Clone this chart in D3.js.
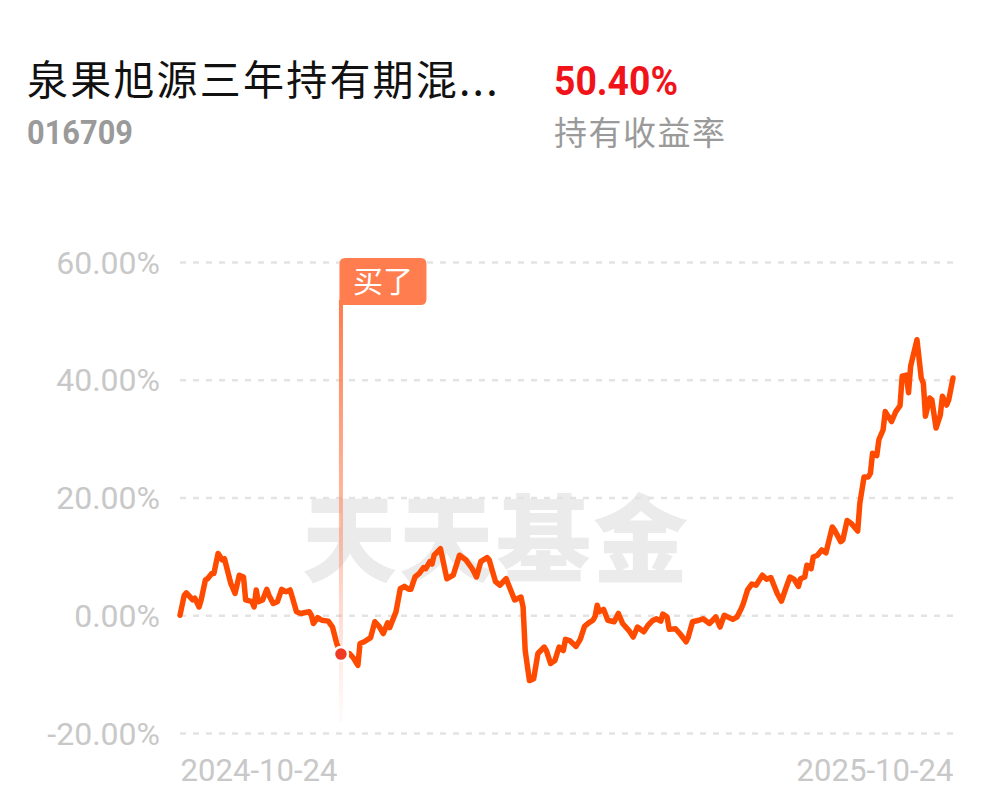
<!DOCTYPE html>
<html><head><meta charset="utf-8">
<script src="https://cdn.jsdelivr.net/npm/d3@7/dist/d3.min.js"></script>
<style>
html,body{margin:0;padding:0;background:#fff;}
svg{display:block;}
</style></head>
<body>
<svg id="c" width="997" height="802"></svg>
<script>
// ---- data ----
const fundName = "泉果旭源三年持有期混...";
const fundCode = "016709";
const holdReturn = "50.40%";
const holdReturnLabel = "持有收益率";
const startDate = "2024-10-24";
const endDate = "2025-10-24";
const yTicks = [-20, 0, 20, 40, 60];
const xTickLabels = ["2024-10-24", "2025-10-24"];
const buyLabel = "买了";
const buyOffset = 76; // days after start
const watermark = "天天基金";

const dayOffsets = [
  0,2,3,6,7,9,10,12,13,15,16,18,20,21,24,26,28,30,31,34,
  35,36,37,39,41,42,44,46,48,50,52,53,55,57,61,62,63,65,67,70,
  72,74,76,80,82,84,85,87,90,92,94,96,98,99,102,104,106,108,109,111,
  113,115,116,118,119,120,123,126,129,132,135,138,140,142,145,146,149,151,154,158,
  161,162,163,165,167,169,172,173,175,177,179,181,182,184,187,189,191,193,195,196,
  197,198,200,202,205,207,209,212,214,216,219,221,223,225,227,228,230,231,234,236,
  239,240,242,245,247,250,253,255,257,261,263,265,266,268,270,272,275,277,279,282,
  284,286,288,290,292,293,295,296,298,299,301,303,305,308,309,312,313,315,317,320,
  321,323,325,326,327,329,330,332,333,334,336,338,340,341,343,344,345,348,350,351,
  352,354,355,357,359,360,362,363,365
];
const returns = [
  0,3.4,3.8,2.6,2.9,1.4,2.6,6.0,6.2,7.1,7.1,10.5,9.4,9.6,5.4,3.7,6.8,6.5,2.6,2.3,
  1.4,4.3,2.3,2.6,4.4,3.4,2.0,2.3,4.4,4.0,4.3,3.1,0.6,0.3,0.6,0.0,-1.4,-0.4,-0.85,-1.0,
  -2.0,-4.8,-6.6,-6.5,-7.3,-8.5,-4.8,-4.5,-3.8,-1.1,-1.9,-3.1,-1.3,-2.1,0.6,4.5,4.9,4.4,4.4,6.5,
  7.1,8.1,7.9,9.1,8.7,10.2,11.3,6.2,6.8,10.2,9.4,7.9,6.5,9.1,9.8,9.4,5.7,5.1,6.2,2.6,
  3.1,1.4,-6.0,-11.1,-10.8,-6.5,-5.4,-6.0,-8.2,-7.7,-5.4,-6.0,-4.1,-4.3,-5.3,-4.1,-1.9,-1.3,-0.85,-0.2,
  1.7,0.6,1.0,-0.85,-1.1,0.3,-1.4,-2.6,-3.7,-2.0,-2.8,-1.7,-0.95,-0.6,-1.0,0.2,-0.3,-2.4,-2.3,-3.1,
  -4.5,-3.7,-1.1,-0.85,-0.6,-1.4,-0.3,-2.0,0.0,-0.7,-0.3,1.1,2.0,4.3,5.3,5.1,6.8,6.1,6.4,3.7,
  2.4,4.5,6.5,6.1,4.9,6.2,6.5,8.5,7.9,9.9,10.2,11.1,10.6,15.0,14.5,12.5,12.8,16.1,15.6,14.3,
  19.0,23.5,23.5,24.1,27.5,27.1,29.8,31.5,34.6,34.0,32.9,34.6,35.6,40.6,40.8,37.8,42.3,46.8,40.3,39.4,
  33.8,36.9,36.6,31.8,34.0,37.2,35.7,36.6,40.3
];

// ---- build ----
const parse = d3.timeParse("%Y-%m-%d");
const t0 = parse(startDate), t1 = parse(endDate);
const data = dayOffsets.map((o, i) => ({date: d3.timeDay.offset(t0, o), v: returns[i]}));
const buyDate = d3.timeDay.offset(t0, buyOffset);
const buyPoint = data.find(d => +d.date === +buyDate);

const svg = d3.select("#c");
const x = d3.scaleTime().domain([t0, t1]).range([180, 953]);
const y = d3.scaleLinear().domain([-20, 60]).range([733, 262]);

// header
svg.append("text").attr("x", 27).attr("y", 95)
  .attr("font-family", "'Noto Sans CJK SC', sans-serif").attr("font-size", 41)
  .attr("letter-spacing", 2.2).attr("fill", "#111").text(fundName);
svg.append("text").attr("x", 27).attr("y", 144)
  .attr("font-family", "Roboto, sans-serif").attr("font-weight", 700).attr("font-size", 33)
  .attr("fill", "#9a9a9a").attr("textLength", 106).attr("lengthAdjust", "spacingAndGlyphs").text(fundCode);
svg.append("text").attr("x", 554).attr("y", 95)
  .attr("font-family", "Roboto, sans-serif").attr("font-weight", 700).attr("font-size", 41)
  .attr("fill", "#f0141a").attr("textLength", 124).attr("lengthAdjust", "spacingAndGlyphs").text(holdReturn);
svg.append("text").attr("x", 554).attr("y", 145)
  .attr("font-family", "'Noto Sans CJK SC', sans-serif").attr("font-size", 33)
  .attr("letter-spacing", 1.5).attr("fill", "#9a9a9a").text(holdReturnLabel);

// watermark
svg.append("text").attr("x", 496).attr("y", 575).attr("text-anchor", "middle")
  .attr("font-family", "'Noto Sans CJK SC', sans-serif").attr("font-weight", 900).attr("font-size", 95)
  .attr("letter-spacing", 2).attr("fill", "#ebebeb").text(watermark);

// y axis with gridlines
const yAxis = d3.axisLeft(y).tickValues(yTicks).tickSize(-(953 - 180)).tickPadding(20)
  .tickFormat(d => d.toFixed(2) + "%");
const gy = svg.append("g").attr("transform", "translate(180,0)").call(yAxis);
gy.select(".domain").remove();
gy.selectAll(".tick line").attr("stroke", "#e3e3e3").attr("stroke-width", 2.5).attr("stroke-dasharray", "6,7");
gy.selectAll(".tick text").attr("font-family", "Roboto, sans-serif").attr("font-size", 32)
  .attr("fill", "#c8c8c8").attr("dy", "0.35em");

// x axis labels
const xAxis = d3.axisBottom(x).tickValues(xTickLabels.map(parse)).tickSize(0).tickPadding(0)
  .tickFormat(d3.timeFormat("%Y-%m-%d"));
const gx = svg.append("g").attr("transform", "translate(0,757)").call(xAxis);
gx.select(".domain").remove();
gx.selectAll(".tick text").attr("font-family", "Roboto, sans-serif").attr("font-size", 32)
  .attr("fill", "#c8c8c8").attr("dy", "0.75em")
  .attr("text-anchor", (d, i) => i === 0 ? "start" : "end")
  .attr("textLength", 157).attr("lengthAdjust", "spacingAndGlyphs");

// buy marker pole
const defs = svg.append("defs");
const grad = defs.append("linearGradient").attr("id", "pole").attr("x1", 0).attr("y1", 0).attr("x2", 0).attr("y2", 1);
grad.append("stop").attr("offset", "0%").attr("stop-color", "#ff7a4a").attr("stop-opacity", 1);
grad.append("stop").attr("offset", "55%").attr("stop-color", "#ff8a60").attr("stop-opacity", 0.55);
grad.append("stop").attr("offset", "82%").attr("stop-color", "#ff9a80").attr("stop-opacity", 0.25);
grad.append("stop").attr("offset", "100%").attr("stop-color", "#ffb0a0").attr("stop-opacity", 0.05);
const bx = x(buyDate);
svg.append("rect").attr("x", bx - 2).attr("y", 300).attr("width", 4).attr("height", 722 - 300)
  .attr("fill", "url(#pole)");

// line
const line = d3.line().x(d => x(d.date)).y(d => y(d.v)).curve(d3.curveLinear);
svg.append("path").datum(data).attr("d", line).attr("fill", "none")
  .attr("stroke", "#ff4b00").attr("stroke-width", 5.5).attr("stroke-linejoin", "round").attr("stroke-linecap", "round");

// buy dot
svg.append("circle").attr("cx", bx).attr("cy", y(buyPoint.v)).attr("r", 7)
  .attr("fill", "#ee3a22").attr("stroke", "#fff").attr("stroke-width", 2.5);

// flag
const fx = bx - 1.5, fy = 258, fw = 87, fh = 47, r = 6;
svg.append("path").attr("d",
  `M${fx},${fy + r} Q${fx},${fy} ${fx + r},${fy} L${fx + fw - r},${fy} Q${fx + fw},${fy} ${fx + fw},${fy + r} ` +
  `L${fx + fw},${fy + fh - r} Q${fx + fw},${fy + fh} ${fx + fw - r},${fy + fh} L${fx},${fy + fh} Z`)
  .attr("fill", "#ff7d4f");
svg.append("text").attr("x", fx + fw / 2).attr("y", fy + fh / 2).attr("dy", "0.36em")
  .attr("text-anchor", "middle").attr("font-family", "'Noto Sans CJK SC', sans-serif")
  .attr("font-size", 30).attr("fill", "#fff").text(buyLabel);
</script>
</body></html>
